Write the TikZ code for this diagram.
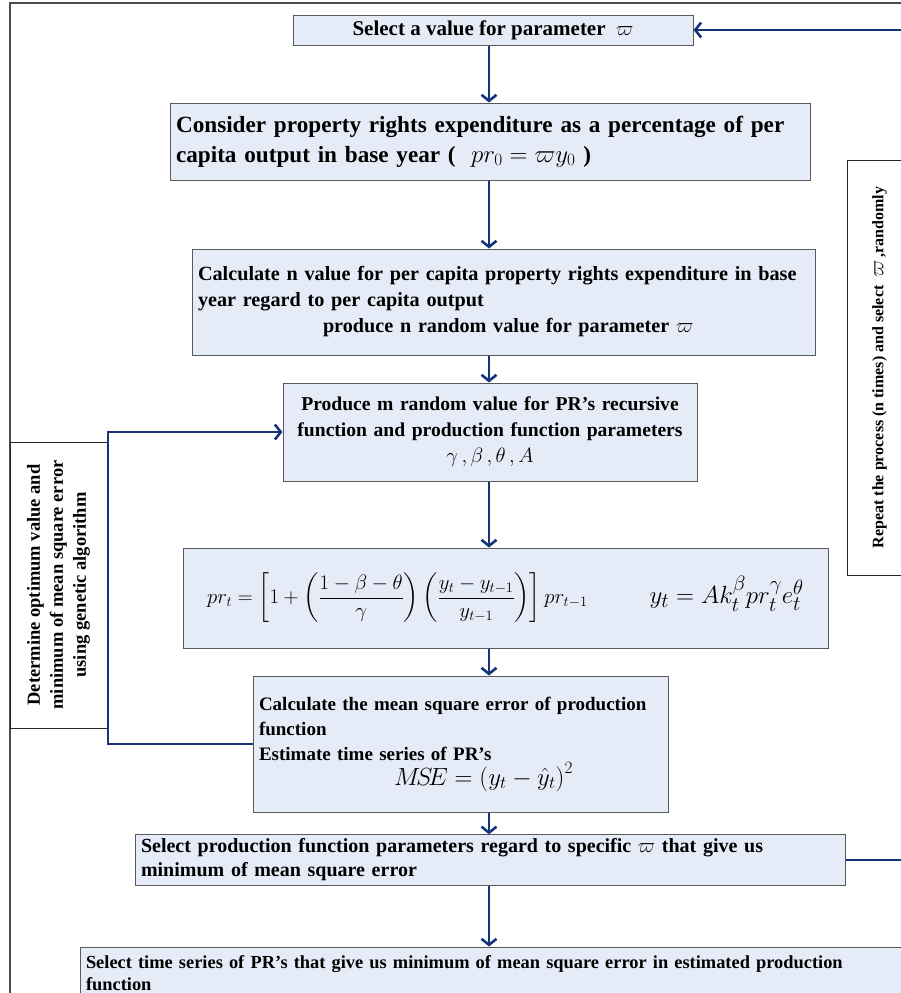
\documentclass[tikz,border=0pt]{standalone}
\usepackage{amsmath}
\usepackage{fontspec}
\setmainfont{Liberation Serif}
\usetikzlibrary{arrows.meta,positioning,calc}
\definecolor{boxfill}{RGB}{230,236,247}
\definecolor{navy}{RGB}{22,52,122}

\begin{document}
\begin{tikzpicture}[x=1pt, y=-1pt,
    stepbox/.style={draw=black!65, line width=1pt, fill=boxfill, inner xsep=6pt, inner ysep=4pt},
    sidebox/.style={draw=black!85, line width=0.8pt, fill=white, rotate=90, align=center},
    flow/.style={navy, line width=2.6pt, -{Straight Barb[length=6pt,width=15pt]}}
]
    \useasboundingbox (0,0) rectangle (901,993);

    % Page frame
    \draw[black!70, line width=1.2pt] (10,993) -- (10,3) -- (901,3);

    % Helper coordinates for the connectors
    \coordinate (axis) at (489,0);
    \coordinate (loopx) at (108,0);
    \coordinate (rim) at (904,0);

    % Main column
    \node[stepbox, minimum width=400pt, minimum height=30pt,
          font=\bfseries\fontsize{21}{24}\selectfont] (pick) at (493,30)
        {Select a value for parameter~~$\varpi$};

    \node[stepbox, text width=628pt, minimum height=77pt, align=left,
          font=\bfseries\fontsize{23.2}{30}\selectfont] (consider) at (490,141.5)
        {Consider property rights expenditure as a percentage of per\\
         capita output in base year (~~$pr_0=\varpi y_0$~)};

    \node[stepbox, text width=611pt, minimum height=106pt, align=left,
          font=\bfseries\fontsize{20.2}{26}\selectfont] (nvalue) at (503.5,302)
        {Calculate n value for per capita property rights expenditure in base\\
         year regard to per capita output\\
         \hspace*{125pt}produce n random value for parameter $\varpi$};

    \node[stepbox, text width=402pt, minimum height=98pt, align=center,
          font=\bfseries\fontsize{19.6}{26}\selectfont] (produce) at (490,432)
        {Produce m random value for PR's recursive\\
         function and production function parameters\\
         $\gamma\,,\beta\,,\theta\,,A$};

    \node[stepbox, minimum width=645pt, minimum height=100pt,
          font=\fontsize{19.5}{24}\selectfont] (recur) at (505.5,598)
        {$\displaystyle pr_t=\left[1+\left(\frac{1-\beta-\theta}{\gamma}\right)\left(\frac{y_t-y_{t-1}}{y_{t-1}}\right)\right]pr_{t-1}$%
         \hspace{62pt}{\fontsize{30}{34}\selectfont$y_t=Ak_t^{\beta}pr_t^{\gamma}e_t^{\theta}$}};

    \node[stepbox, text width=403pt, minimum height=136pt, align=left,
          font=\bfseries\fontsize{19}{25}\selectfont] (mse) at (460.5,744)
        {Calculate the mean square error of production\\
         function\\
         Estimate time series of PR's\\
         \hspace*{135pt}{\fontsize{23}{30}\selectfont$M\!S\!E=\left(y_t-\hat{y}_t\right)^2$}};

    \node[stepbox, text width=698pt, minimum height=50pt, align=left,
          font=\bfseries\fontsize{20}{24}\selectfont] (choose) at (490,860)
        {Select production function parameters regard to specific $\varpi$ that give us\\
         minimum of mean square error};

    \node[stepbox, text width=818pt, minimum height=52pt, align=left,
          font=\bfseries\fontsize{18.4}{22}\selectfont] (series) at (495,973)
        {Select time series of PR's that give us minimum of mean square error in estimated production\\
         function};

    % Side boxes
    \node[sidebox, minimum width=286pt, minimum height=97pt,
          font=\bfseries\fontsize{18.5}{23}\selectfont] (genetic) at (58.5,585)
        {Determine optimum value and\\
         minimum of mean square error\\
         using genetic algorithm};

    \node[sidebox, minimum width=415pt, minimum height=65pt,
          font=\bfseries\fontsize{16}{20}\selectfont] (repeat) at (879.5,367.5)
        {Repeat the process (n times) and select~~{\fontsize{22}{24}\selectfont$\varpi$}\,,randomly};

    % Connectors
    \draw[flow] (pick.south -| axis) -- (consider.north -| axis);
    \draw[flow] (consider.south -| axis) -- (nvalue.north -| axis);
    \draw[flow] (nvalue.south -| axis) -- (produce.north -| axis);
    \draw[flow] (produce.south -| axis) -- (recur.north -| axis);
    \draw[flow] (recur.south -| axis) -- (mse.north -| axis);
    \draw[flow] (mse.south -| axis) -- (choose.north -| axis);
    \draw[flow] (choose.south -| axis) -- (series.north -| axis);
    \draw[flow] (mse.west) -- (mse.west -| loopx) |- (produce.west);
    \draw[flow] (choose.east) -- (choose.east -| rim) |- (pick.east);
\end{tikzpicture}
\end{document}
